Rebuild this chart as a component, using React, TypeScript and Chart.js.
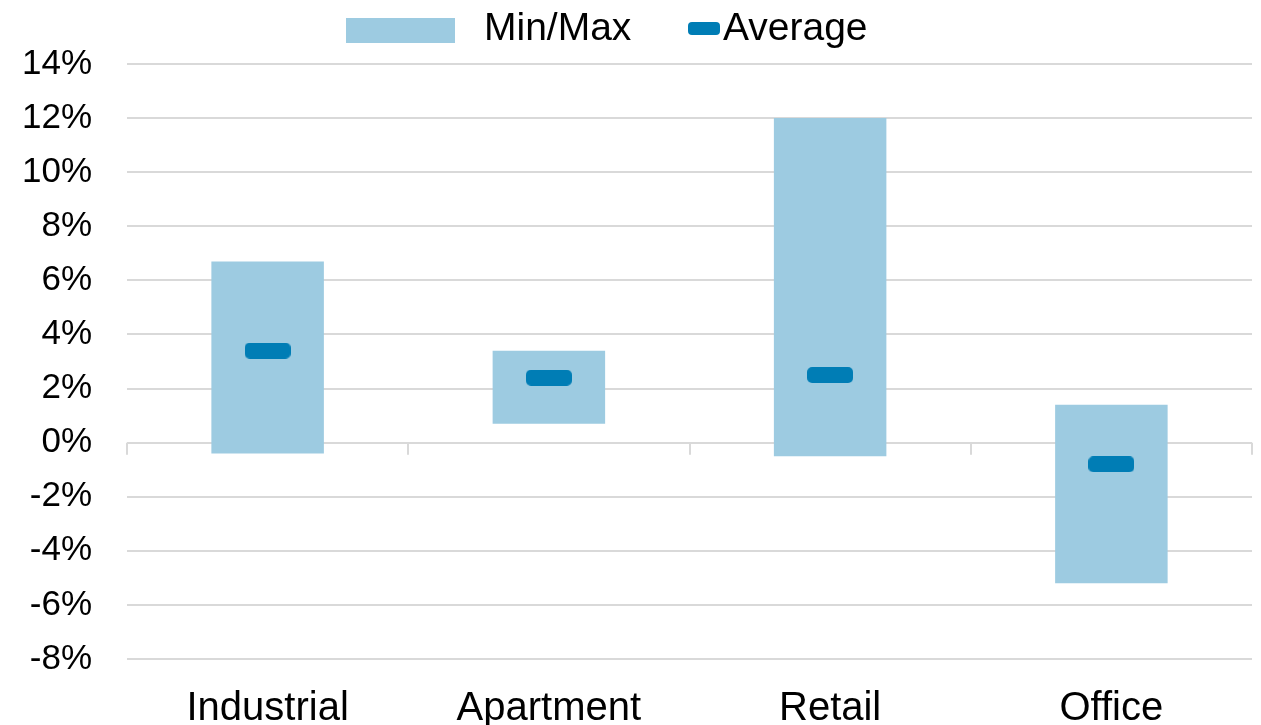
import React, { useEffect, useRef } from "react";
import { Chart, registerables } from "chart.js";

Chart.register(...registerables);

const categories = ["Industrial", "Apartment", "Retail", "Office"];
const minValues = [-0.4, 0.7, -0.5, -5.2];
const maxValues = [6.7, 3.4, 12.0, 1.4];
const avgValues = [3.4, 2.4, 2.5, -0.8];
const yMin = -8;
const yMax = 14;
const yStep = 2;
const legendLabels = ["Min/Max", "Average"];

const BAR_COLOR = "#9DCBE1";
const AVG_COLOR = "#007DB5";
const GRID_COLOR = "#D9D9D9";
const FONT = "'Liberation Sans', Arial, sans-serif";

function makeMarker(w: number, h: number, r: number): HTMLCanvasElement {
  const c = document.createElement("canvas");
  c.width = w;
  c.height = h;
  const ctx = c.getContext("2d")!;
  ctx.fillStyle = AVG_COLOR;
  ctx.beginPath();
  (ctx as any).roundRect(0, 0, w, h, r);
  ctx.fill();
  return c;
}

const zeroTicksPlugin = {
  id: "zeroTicks",
  beforeDatasetsDraw(chart: any) {
    const x = chart.scales.x;
    const y = chart.scales.y;
    const y0 = y.getPixelForValue(0);
    const ctx = chart.ctx;
    ctx.save();
    ctx.strokeStyle = GRID_COLOR;
    ctx.lineWidth = 2;
    for (let i = 0; i <= categories.length; i++) {
      const px = Math.round(x.getPixelForValue(i - 0.5));
      ctx.beginPath();
      ctx.moveTo(px, y0);
      ctx.lineTo(px, y0 + 12);
      ctx.stroke();
    }
    ctx.restore();
  },
};

const legendPlugin = {
  id: "customLegend",
  afterDraw(chart: any) {
    const ctx = chart.ctx;
    ctx.save();
    ctx.fillStyle = BAR_COLOR;
    ctx.fillRect(346, 18, 109, 25);
    ctx.fillStyle = "#000";
    ctx.font = `39px ${FONT}`;
    ctx.textBaseline = "middle";
    ctx.textAlign = "left";
    ctx.fillText(legendLabels[0], 484, 29);
    ctx.fillStyle = AVG_COLOR;
    ctx.beginPath();
    ctx.roundRect(688, 22, 32, 13, 4);
    ctx.fill();
    ctx.fillStyle = "#000";
    ctx.fillText(legendLabels[1], 723, 29);
    ctx.restore();
  },
};

export default function App() {
  const ref = useRef<HTMLCanvasElement | null>(null);
  useEffect(() => {
    if (!ref.current) return;
    const marker = makeMarker(46, 16, 5);
    const chart = new Chart(ref.current, {
      type: "bar",
      data: {
        labels: categories,
        datasets: [
          {
            type: "line",
            label: legendLabels[1],
            data: avgValues,
            showLine: false,
            pointStyle: marker as any,
            pointRadius: 8,
            backgroundColor: AVG_COLOR,
            borderColor: AVG_COLOR,
            order: 0,
          } as any,
          {
            type: "bar",
            label: legendLabels[0],
            data: categories.map((_, i) => [minValues[i], maxValues[i]]),
            backgroundColor: BAR_COLOR,
            borderWidth: 0,
            barPercentage: 0.4,
            categoryPercentage: 1,
            order: 1,
          } as any,
        ],
      },
      options: {
        animation: false,
        responsive: true,
        maintainAspectRatio: false,
        layout: { padding: { top: 64, right: 8, left: 0, bottom: 0 } },
        plugins: {
          legend: { display: false },
          tooltip: { enabled: false },
        },
        scales: {
          x: {
            grid: { display: false },
            border: { display: false },
            ticks: {
              color: "#000",
              font: { family: FONT, size: 40 },
              padding: 18,
              maxRotation: 0,
            },
            afterFit: (s: any) => {
              s.height = 66;
            },
          },
          y: {
            min: yMin,
            max: yMax,
            grid: { color: GRID_COLOR, lineWidth: 2, drawTicks: false },
            border: { display: false },
            ticks: {
              stepSize: yStep,
              color: "#000",
              font: { family: FONT, size: 35 },
              padding: 35,
              callback: (v: any) => `${v}%`,
            },
            afterFit: (s: any) => {
              s.width = 127;
            },
          },
        },
      },
      plugins: [zeroTicksPlugin, legendPlugin],
    });
    return () => chart.destroy();
  }, []);
  return (
    <div style={{ position: "fixed", left: 0, top: 0, width: 1261, height: 725 }}>
      <canvas ref={ref} />
    </div>
  );
}
